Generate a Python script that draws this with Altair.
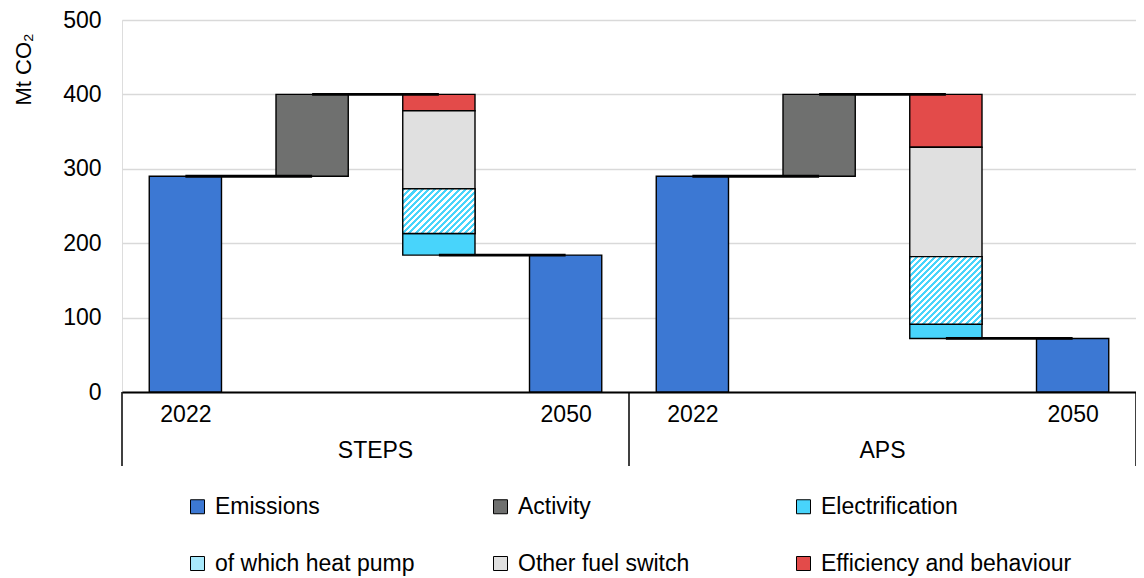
import altair as alt
import pandas as pd

# ---------------- data ----------------
scenarios = ["STEPS", "APS"]
year_labels = ["2022", "2050"]
components = ["Emissions", "Activity", "Electrification", "of which heat pump",
              "Other fuel switch", "Efficiency and behaviour"]
colors = ["#3c78d3", "#6f706f", "#48d4fb", "#a8e9fc", "#e0e0e0", "#e34b4a"]

emissions_2022 = [290, 290]
activity = [110, 110]
efficiency = [22, 71]
other_fuel = [105, 147]
heat_pump = [60, 91]
electrification = [29, 19]
emissions_2050 = [184, 72]

# ---------------- layout / style ----------------
W, H = 1014, 372
FONT = "Liberation Sans"
FS = 23
BAR_HALF = 0.285
CYAN = "#48d4fb"

bars, links, hp = [], [], []
for g, s in enumerate(scenarios):
    base = g * 4
    c = [base + k + 0.5 for k in range(4)]
    e0 = emissions_2022[g]
    top = e0 + activity[g]
    bars.append(dict(scenario=s, component="Emissions", x=c[0] - BAR_HALF, x2=c[0] + BAR_HALF, y=0, y2=e0))
    bars.append(dict(scenario=s, component="Activity", x=c[1] - BAR_HALF, x2=c[1] + BAR_HALF, y=e0, y2=top))
    level = top
    for comp, val in [("Efficiency and behaviour", efficiency[g]),
                      ("Other fuel switch", other_fuel[g]),
                      ("of which heat pump", heat_pump[g]),
                      ("Electrification", electrification[g])]:
        row = dict(scenario=s, component=comp, x=c[2] - BAR_HALF, x2=c[2] + BAR_HALF, y=level - val, y2=level)
        bars.append(row)
        if comp == "of which heat pump":
            hp.append(row)
        level -= val
    bars.append(dict(scenario=s, component="Emissions", x=c[3] - BAR_HALF, x2=c[3] + BAR_HALF, y=0, y2=emissions_2050[g]))
    links.append(dict(x=c[0], x2=c[1], y=e0))
    links.append(dict(x=c[1], x2=c[2], y=top))
    links.append(dict(x=c[2], x2=c[3], y=emissions_2050[g]))

bars_df = pd.DataFrame(bars)
links_df = pd.DataFrame(links)
hp_df = pd.DataFrame(hp)
sep_df = pd.DataFrame({"x": [0, 4, 8]})
grp_df = pd.DataFrame({"x": [2, 6], "label": scenarios})


def hatch(w, h, period=6.0):
    r = h / w
    k = (1 + r) / (1 + r * r)
    n = max(2, round(w * (1 + r) / period))
    stops = []
    for i in range(n):
        a, b, e = i / n, (i + 0.5) / n, (i + 1) / n
        stops += [{"offset": a, "color": CYAN}, {"offset": b, "color": CYAN},
                  {"offset": b, "color": "#ffffff"}, {"offset": e, "color": "#ffffff"}]
    return {"gradient": "linear", "x1": 0, "y1": 0, "x2": k, "y2": k * r, "stops": stops}


bar_px = 2 * BAR_HALF * W / 8
hatch_steps = hatch(bar_px, heat_pump[0] * H / 500)
hatch_aps = hatch(bar_px, heat_pump[1] * H / 500)

xscale = alt.Scale(domain=[0, 8], nice=False, zero=False)
yscale = alt.Scale(domain=[0, 500], nice=False)

legend = alt.Legend(
    title=None, orient="none", legendX=64, legendY=475, columns=3, direction="horizontal",
    gridAlign="all", columnPadding=23, rowPadding=33,
    symbolType="square", symbolSize=196, symbolStrokeColor="#000000", symbolStrokeWidth=1,
    labelFontSize=FS, labelFont=FONT, labelColor="#000000", labelOffset=6, labelLimit=400,
)

base_bars = alt.Chart(bars_df).mark_bar(stroke="#000000", strokeWidth=1.4).encode(
    x=alt.X("x:Q", scale=xscale,
            axis=alt.Axis(values=[0.5, 3.5, 4.5, 7.5],
                          labelExpr=f"datum.value % 4 < 1 ? '{year_labels[0]}' : '{year_labels[1]}'",
                          grid=False, ticks=False, domain=True, domainColor="#000000", domainWidth=2,
                          labelFontSize=FS, labelFont=FONT, labelColor="#000000", labelPadding=11,
                          title=None)),
    x2="x2:Q",
    y=alt.Y("y:Q", scale=yscale,
            axis=alt.Axis(values=[0, 100, 200, 300, 400, 500], grid=True, gridColor="#d9d9d9",
                          gridWidth=1.5, domain=False, ticks=False, labelFontSize=FS, labelFont=FONT,
                          labelColor="#000000", labelPadding=21,
                          title="Mt CO₂", titleFontSize=FS - 1, titleFont=FONT, titleFontWeight="normal",
                          titleColor="#000000", titleAngle=270, titleAlign="center",
                          titleBaseline="alphabetic", titleX=-92, titleY=49)),
    y2="y2:Q",
    color=alt.Color("component:N", scale=alt.Scale(domain=components, range=colors), legend=legend),
)

hp_bars = alt.Chart(hp_df).mark_bar(stroke="#000000", strokeWidth=1.4).encode(
    x=alt.X("x:Q", scale=xscale), x2="x2:Q",
    y=alt.Y("y:Q", scale=yscale), y2="y2:Q",
    fill=alt.condition("datum.scenario === 'STEPS'", alt.value(hatch_steps), alt.value(hatch_aps)),
)

connectors = alt.Chart(links_df).mark_rule(color="#000000", strokeWidth=2.8).encode(
    x=alt.X("x:Q", scale=xscale), x2="x2:Q", y=alt.Y("y:Q", scale=yscale),
)

separators = alt.Chart(sep_df).mark_rule(color="#000000", strokeWidth=1.5).encode(
    x=alt.X("x:Q", scale=xscale), y=alt.value(H), y2=alt.value(H + 74),
)

groups = alt.Chart(grp_df).mark_text(fontSize=FS, font=FONT, color="#000000", baseline="middle").encode(
    x=alt.X("x:Q", scale=xscale), y=alt.value(H + 59), text="label:N",
)

chart = alt.layer(base_bars, hp_bars, connectors, separators, groups).properties(
    width=W, height=H,
    autosize=alt.AutoSizeParams(type="none"),
    padding={"left": 114, "top": 12, "right": 0, "bottom": 186},
).configure_view(stroke=None).configure(font=FONT)

chart.save("out.html", embed_options={"renderer": "svg", "actions": False})
